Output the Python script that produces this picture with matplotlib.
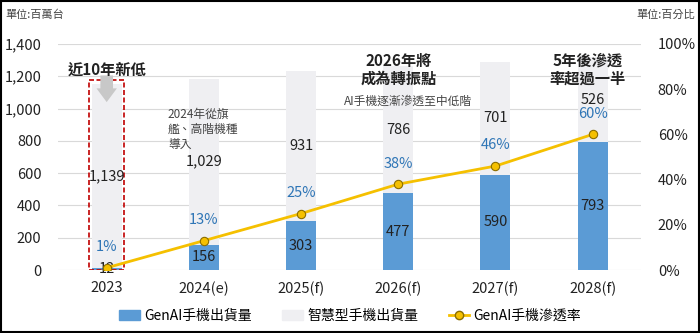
import numpy as np
import matplotlib
matplotlib.use('Agg')
import matplotlib.pyplot as plt
from matplotlib.patches import Rectangle, FancyArrow
from matplotlib.lines import Line2D

plt.rcParams['font.family'] = ['Noto Sans CJK TC', 'DejaVu Sans']

years = ['2023', '2024(e)', '2025(f)', '2026(f)', '2027(f)', '2028(f)']
genai = [12, 156, 303, 477, 590, 793]
smart = [1139, 1029, 931, 786, 701, 526]
rate = [1, 13, 25, 38, 46, 60]

blue = '#5B9BD5'
gray = '#EFEFF2'
gold = '#F5C000'
pct_color = '#2E75B6'

fig = plt.figure(figsize=(7, 3.33), dpi=100)
ax = fig.add_axes([0.083, 0.189, 0.833, 0.679])
ax2 = ax.twinx()

x = np.arange(len(years))
w = 0.31
ax.bar(x, genai, w, color=blue, zorder=2, label='GenAI手機出貨量')
ax.bar(x, smart, w, bottom=genai, color=gray, zorder=2, label='智慧型手機出貨量')

for i in range(len(years)):
    ax.text(x[i], genai[i] / 2, f'{genai[i]:,}', ha='center', va='center',
            fontsize=10.5, color='#222222', zorder=4)
    ax.text(x[i], genai[i] + smart[i] / 2, f'{smart[i]:,}', ha='center', va='center',
            fontsize=10.5, color='#222222', zorder=4)

ax.set_xlim(-0.5, 5.5)
ax.set_ylim(0, 1400)
ax.set_yticks(range(0, 1401, 200))
ax.set_yticklabels([f'{v:,}' for v in range(0, 1401, 200)])
ax.set_xticks(x)
ax.set_xticklabels(years)
ax.grid(axis='y', color='#D9D9D9', lw=0.8, zorder=0)
ax.set_axisbelow(True)
for s in ax.spines.values():
    s.set_visible(False)
for s in ax2.spines.values():
    s.set_visible(False)
ax.tick_params(axis='both', length=0, labelsize=10.5, colors='#222222')
ax.tick_params(axis='y', pad=12)
ax.tick_params(axis='x', pad=8)

ax2.plot(x, rate, color=gold, lw=2, marker='o', ms=6, mfc=gold, mec='#8A6D00',
         mew=0.8, zorder=5, label='GenAI手機滲透率')
ax2.set_ylim(0, 100)
ax2.set_yticks(range(0, 101, 20))
ax2.set_yticklabels([f'{v}%' for v in range(0, 101, 20)])
ax2.tick_params(axis='y', length=0, labelsize=10.5, colors='#222222', pad=12)
for i in range(len(years)):
    ax2.text(x[i], rate[i] + 6, f'{rate[i]}%', ha='center', va='bottom',
             fontsize=10.5, color=pct_color, zorder=6)

# red dashed box around 2023
ax.add_patch(Rectangle((-0.18, 0), 0.36, genai[0] + smart[0] + 25, fill=False,
                       ec='#C00000', ls=(0, (3, 1.5)), lw=1.2, zorder=3))
ax.add_patch(FancyArrow(0, 1205, 0, -165, width=0.13, head_width=0.21,
                        head_length=85, length_includes_head=True,
                        color='#C8C8C8', lw=0, zorder=3))
ax.text(0.0, 1240, '近10年新低', ha='center', va='center', fontsize=11,
        fontweight='bold', color='#222222')

ax.text(0.63, 1005, '2024年從旗\n艦、高階機種\n導入', ha='left', va='top',
        fontsize=8.5, color='#444444', linespacing=1.2)
ax.text(3.0, 1345, '2026年將\n成為轉振點', ha='center', va='top', fontsize=11,
        fontweight='bold', color='#222222', linespacing=1.15)
ax.text(3.1, 1047, 'AI手機逐漸滲透至中低階', ha='center', va='center',
        fontsize=8.5, color='#444444')
ax.text(4.95, 1345, '5年後滲透\n率超過一半', ha='center', va='top', fontsize=11,
        fontweight='bold', color='#222222', linespacing=1.15)

fig.text(0.007, 0.955, '單位:百萬台', fontsize=8, color='#444444', va='center')
fig.text(0.993, 0.955, '單位:百分比', fontsize=8, color='#444444', va='center', ha='right')

handles = [Rectangle((0, 0), 1, 1, color=blue),
           Rectangle((0, 0), 1, 1, color=gray),
           Line2D([0], [0], color=gold, lw=2, marker='o', ms=6, mfc=gold, mec='#8A6D00')]
labels = ['GenAI手機出貨量', '智慧型手機出貨量', 'GenAI手機滲透率']
fig.legend(handles, labels, loc='center', bbox_to_anchor=(0.5, 0.051), ncol=3,
           frameon=False, fontsize=10, handlelength=1.5, handleheight=0.75,
           columnspacing=2.2, handletextpad=0.3)

fig.add_artist(Rectangle((0.001, 0.002), 0.997, 0.995, transform=fig.transFigure,
                         fill=False, ec='black', lw=1.5))

fig.savefig('out.png', dpi=100)
